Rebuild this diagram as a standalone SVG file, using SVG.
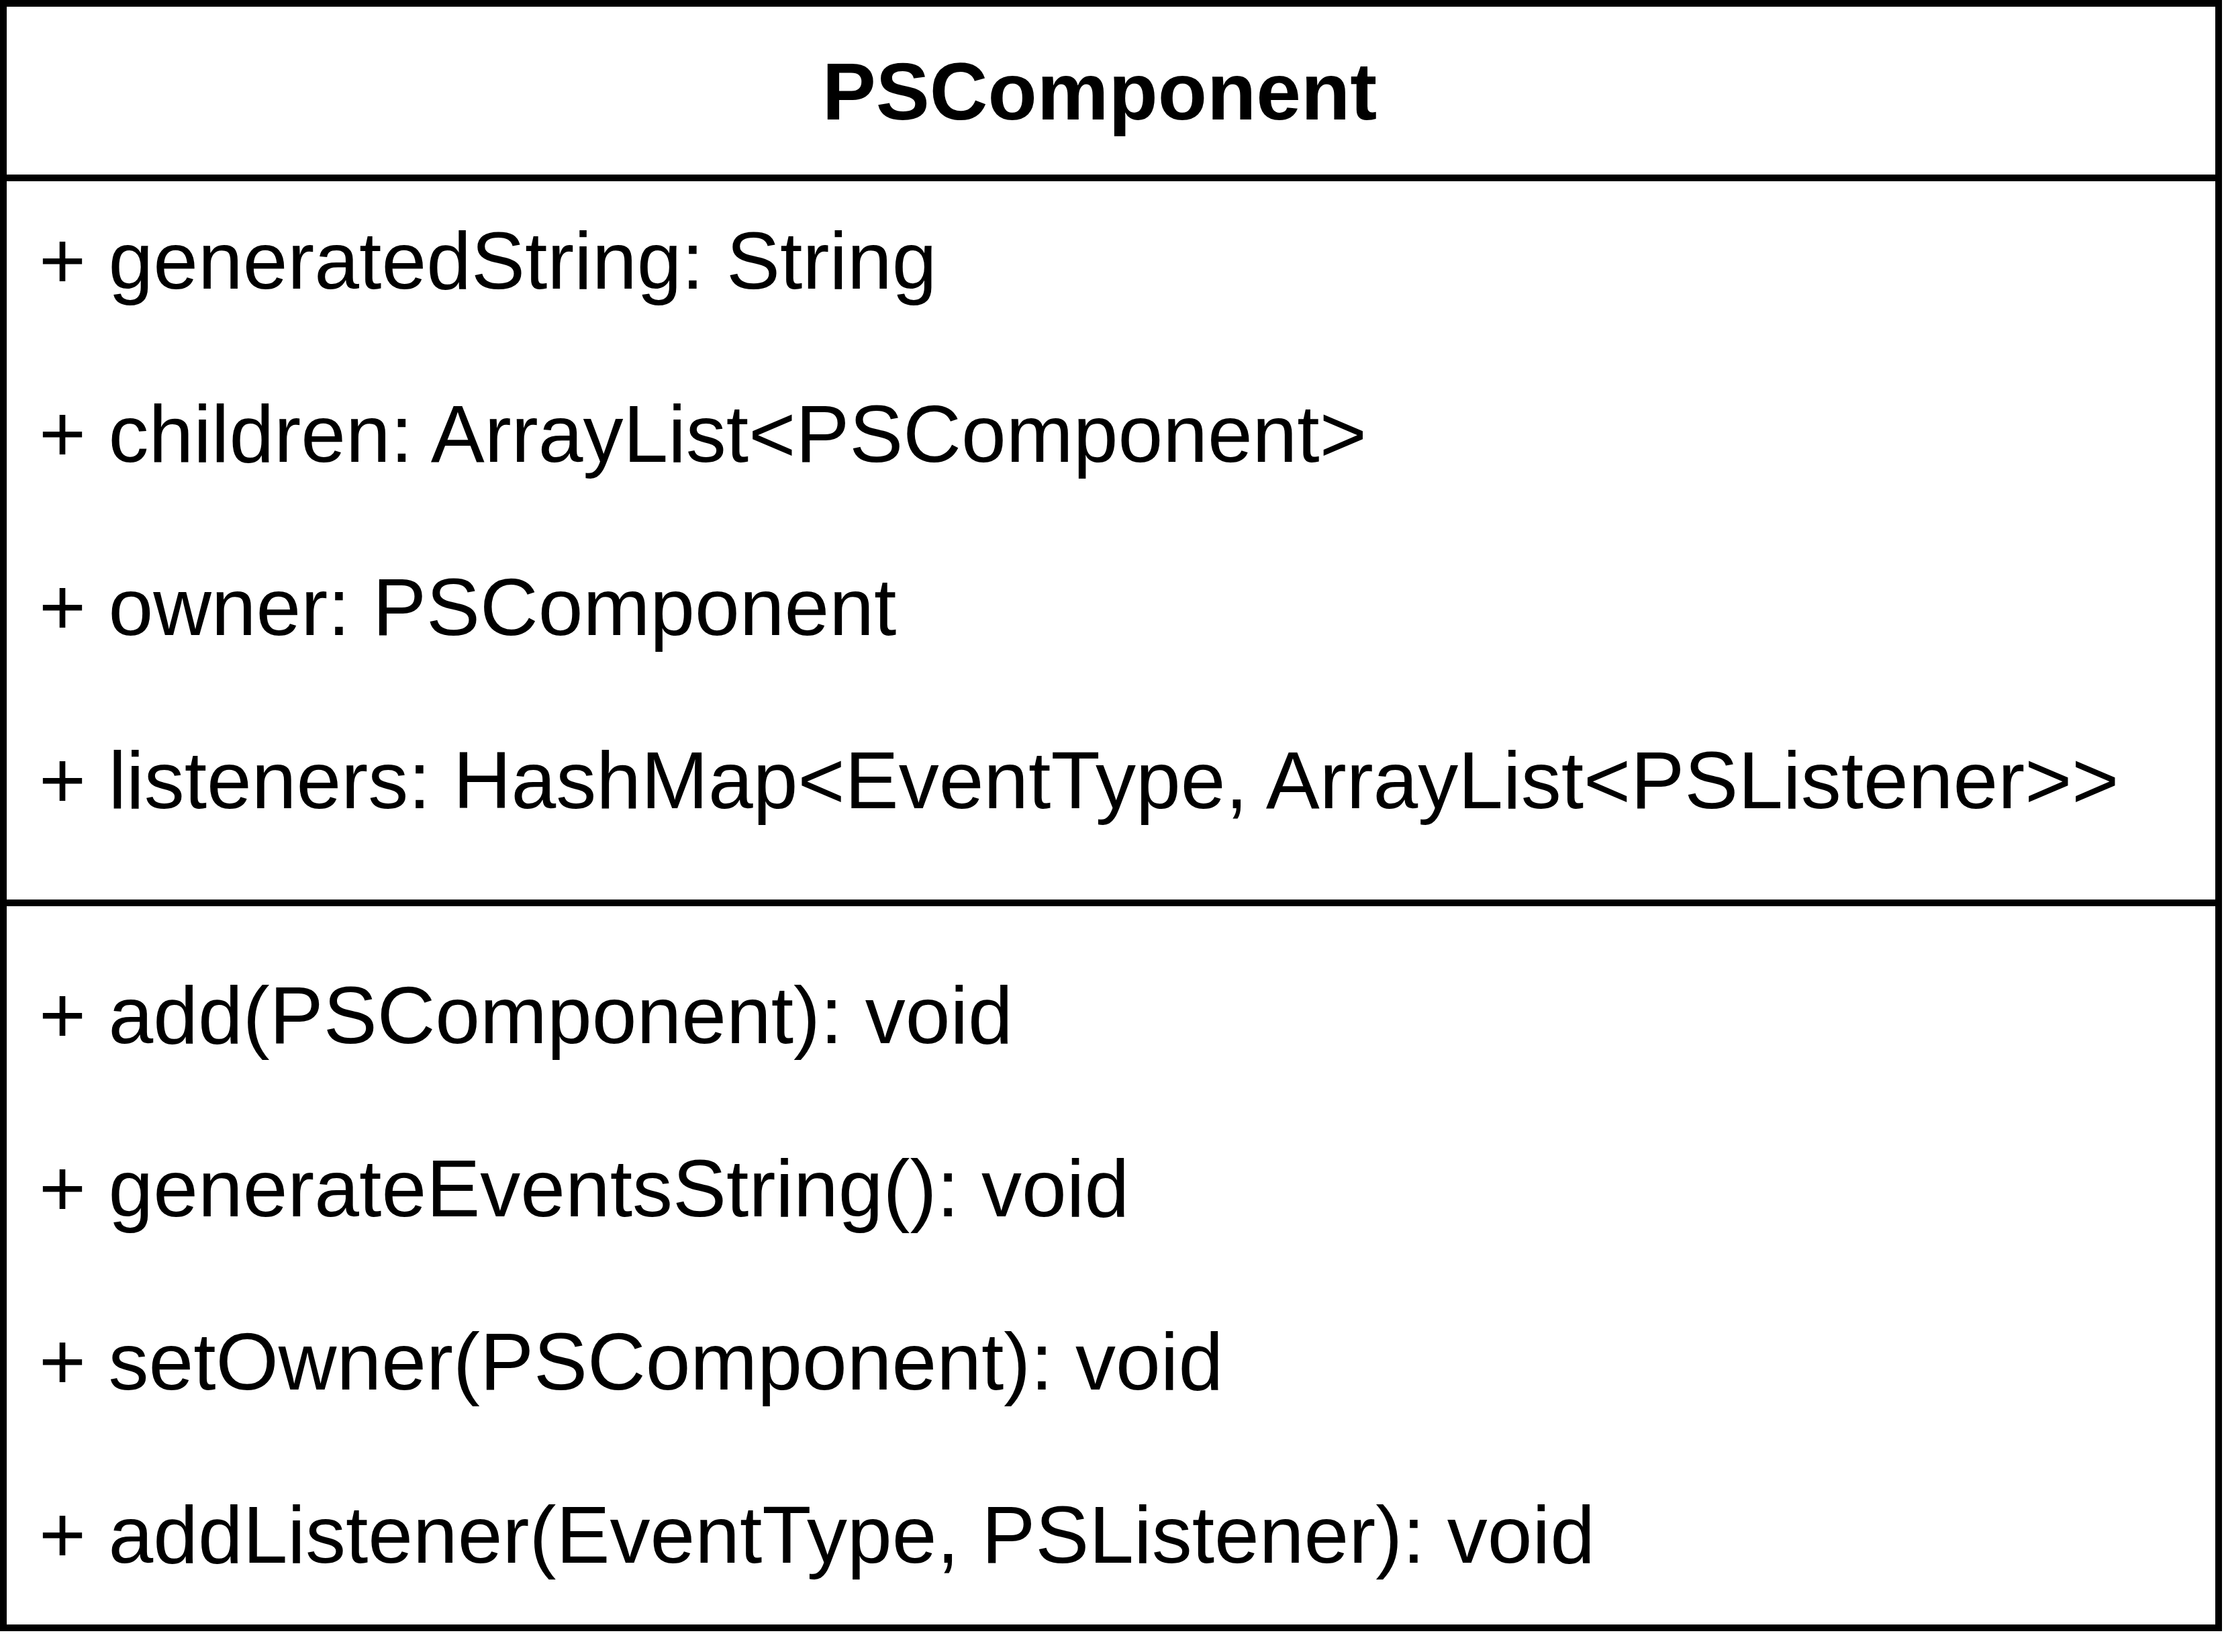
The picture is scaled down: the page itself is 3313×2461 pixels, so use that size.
<svg xmlns="http://www.w3.org/2000/svg" width="3313" height="2461" viewBox="0 0 3313 2461">
<style>
.box{fill:#fff;stroke:#000;stroke-width:10}
.div{stroke:#000;stroke-width:10}
.t{font-family:"Liberation Sans",Arial,Helvetica,sans-serif;font-size:120px;fill:#000}
.title{font-weight:bold;text-anchor:middle}
</style>
<rect x="0" y="0" width="3313" height="2461" fill="#fff"/>
<g id="PSComponent">
<rect class="box" x="5" y="5" width="3300" height="2420"/>
<line class="div" x1="5" y1="265" x2="3305" y2="265"/>
<line class="div" x1="5" y1="1345" x2="3305" y2="1345"/>
<text class="t title" x="1638" y="178">PSComponent</text>
<text class="t" x="58" y="430">+ generatedString: String</text>
<text class="t" x="58" y="688">+ children: ArrayList&lt;PSComponent&gt;</text>
<text class="t" x="58" y="946">+ owner: PSComponent</text>
<text class="t" x="58" y="1204">+ listeners: HashMap&lt;EventType, ArrayList&lt;PSListener&gt;&gt;</text>
<text class="t" x="58" y="1554">+ add(PSComponent): void</text>
<text class="t" x="58" y="1812">+ generateEventsString(): void</text>
<text class="t" x="58" y="2070">+ setOwner(PSComponent): void</text>
<text class="t" x="58" y="2328">+ addListener(EventType, PSListener): void</text>
</g>
<g id="connectors"/>
</svg>
